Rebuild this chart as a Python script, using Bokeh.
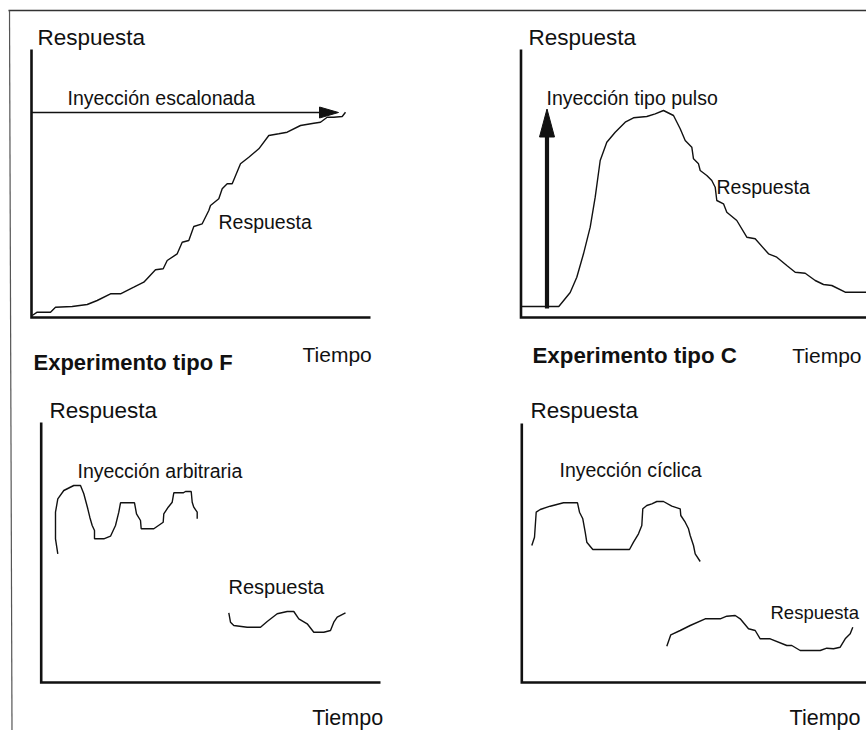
from bokeh.plotting import figure
from bokeh.models import Range1d
from bokeh.core.properties import value
from bokeh.embed import file_html
from bokeh.resources import INLINE

# ---------------- data (page pixel units) ----------------
# Panel F: step injection level and S-shaped response
f_step_level = 112
f_resp_x = [31.7, 36.7, 50, 55, 71.7, 86.7, 96.7, 110, 120, 133.3, 143.3, 155, 162.7, 166.7,
            176.7, 181.7, 188.3, 193.3, 201.7, 208.3, 210, 218.3, 221.7, 226.7, 231.7, 240,
            248.3, 258.3, 268.3, 278.3, 286.7, 300, 313.3, 320, 326.7, 333.3, 341.7, 345]
f_resp_y = [315, 311.7, 311.7, 306.7, 306, 304, 300, 293.3, 293.3, 286.7, 281.7, 269.3, 268.3,
            260, 253.3, 241.7, 240, 226, 223.3, 210, 205, 198.3, 188.3, 183.3, 183.3, 163.3,
            156.7, 148.3, 135, 133.3, 131.7, 125, 122.7, 121.7, 116.7, 116.7, 116, 111.7]

# Panel C: pulse injection and response peak
c_pulse_x = 546.5
c_resp_x = [521.5, 558.3, 569.7, 576.3, 583, 589.7, 594.7, 599.7, 606.3, 614.7, 624.7, 633,
            646.3, 654.7, 663, 673, 679.7, 684.7, 691.3, 693, 698, 699.7, 706.3, 711.3, 714.7,
            716.3, 723, 726.3, 736.3, 746.3, 754.7, 768, 776.3, 786.3, 794.7, 804.7, 814.7,
            823, 831.3, 844.7, 866.3]
c_resp_y = [306, 306, 292, 276.7, 253.3, 226.7, 196.7, 160, 141.7, 131.7, 121.7, 117.3, 116,
            113.3, 110, 115, 128.3, 140, 146.7, 158.3, 163.3, 170, 175, 180, 186.7, 200, 203.3,
            211.7, 220, 236.7, 238.3, 253.3, 256.7, 265, 271.7, 272.7, 280, 284, 285, 291.7,
            291.7]

# Panel arbitrary injection and response
a_inj_x = [57.3, 55, 55, 57.3, 63.3, 73.3, 80, 83.3, 87.3, 89.3, 91.7, 94, 94, 103.3, 110, 115,
           118.3, 120, 134, 136, 140, 140.7, 153.3, 162.7, 163.3, 167.7, 171.7, 173.3, 182.7,
           185, 190.7, 191.7, 193.3, 196.7, 196.7]
a_inj_y = [553.3, 538.3, 511.7, 498.3, 490, 485, 485, 493.3, 508.3, 516.7, 525, 530, 538.3,
           538.3, 535.7, 525, 511.7, 502.3, 502.3, 513.3, 520, 528.3, 528.3, 521.7, 513.3,
           506.7, 501.7, 492.3, 492.3, 491, 491, 501.7, 506.7, 511.7, 518.3]
a_resp_x = [228.3, 230, 233.3, 246.7, 260, 266.7, 276.7, 286.7, 293.3, 298.3, 306.7, 313.3,
            323.3, 330, 333.3, 336.7, 345]
a_resp_y = [612.3, 621.7, 625, 626.7, 626.7, 621, 613.3, 611, 611, 618.3, 623.3, 631.7, 631.7,
            630, 621.7, 616.7, 612.3]

# Panel cyclic injection and response
k_inj_x = [531.3, 534, 535.7, 539.7, 549.7, 563, 577, 579, 582.3, 584.7, 586.3, 592.3, 629, 633,
           638, 641.3, 642.3, 646.3, 651.3, 656.3, 663, 671.3, 679.7, 680.3, 684.7, 688, 689.7,
           693, 694.7, 699.7]
k_inj_y = [545, 536.7, 511.7, 509, 505.7, 502.3, 502.3, 511.7, 518.3, 531.7, 541.7, 549, 549,
           541.7, 533.3, 525, 508.3, 505, 503.3, 501, 501, 505.7, 508.3, 515, 521.7, 528.3, 535,
           545, 553.3, 561]
k_resp_x = [666.3, 670.3, 679.7, 689.7, 704.7, 719.7, 726.3, 734.7, 739.7, 748, 754.7, 759.7,
            769.7, 786.3, 791.3, 799.7, 819.7, 826.3, 833, 839.7, 844.7, 849.7, 852.3]
k_resp_y = [645.7, 634.3, 630, 625, 618.3, 618.3, 615.7, 615, 618.3, 628.3, 630, 638.3, 638.3,
            645, 645, 650, 650, 647.7, 648.3, 646.7, 638.3, 633.3, 626.7]

# ---------------- figure ----------------
INK = "#111111"
FONT = value("Liberation Sans")

p = figure(width=866, height=730, x_range=Range1d(0, 866), y_range=Range1d(730, 0),
           output_backend="svg", toolbar_location=None,
           x_axis_location=None, y_axis_location=None, min_border=0,
           outline_line_color=None, background_fill_color="white",
           border_fill_color="white")
p.grid.visible = False

# scan frame (top and left edges)
p.line([866, 8], [10, 10], line_color="#333333", line_width=1.3)
p.line([9, 11.5], [10, 730], line_color="#555555", line_width=1.2)

# panel axes: (x0, y_top, y_bottom, x_end)
panels = [(31, 49, 317, 370), (520.5, 49, 317, 866), (40.7, 422, 682, 380), (521.3, 423, 682, 866)]
for x0, yt, yb, xe in panels:
    p.line([x0, x0, xe], [yt, yb, yb], line_color=INK, line_width=2.6, line_join="miter")

# curves
for xs, ys in [(f_resp_x, f_resp_y), (c_resp_x, c_resp_y), (a_inj_x, a_inj_y),
               (a_resp_x, a_resp_y), (k_inj_x, k_inj_y), (k_resp_x, k_resp_y)]:
    p.line(xs, ys, line_color=INK, line_width=1.4)

# step injection arrow (horizontal)
p.line([31, 320], [f_step_level, f_step_level], line_color=INK, line_width=1.6)
tip, L, W = 338, 19, 11
p.patch([tip, tip - L, tip - L], [f_step_level, f_step_level - W / 2, f_step_level + W / 2],
        fill_color=INK, line_color=INK)

# pulse injection arrow (vertical, thick)
p.line([c_pulse_x, c_pulse_x], [308, 134], line_color=INK, line_width=4.2)
tipy, L2, W2 = 108.5, 28, 15
p.patch([c_pulse_x, c_pulse_x - W2 / 2, c_pulse_x + W2 / 2], [tipy, tipy + L2, tipy + L2],
        fill_color=INK, line_color=INK)

# ---------------- texts ----------------
def label(x, y, s, size, align="left", bold=False):
    p.text(x=[x], y=[y], text=[s], text_font=FONT, text_font_size=value(size),
           text_align=align, text_baseline="alphabetic", text_color=INK,
           text_font_style="bold" if bold else "normal")

label(37, 36.7, "Respuesta", "22.5px")
label(67, 97.5, "Inyección escalonada", "19.5px")
label(218, 221.5, "Respuesta", "19.5px")
label(33, 361.5, "Experimento tipo F", "22px", bold=True)
label(302, 354, "Tiempo", "21px")

label(528, 36.7, "Respuesta", "22.5px")
label(546, 97.7, "Inyección tipo pulso", "19.5px")
label(716, 186.5, "Respuesta", "19.5px")
label(532, 355, "Experimento tipo C", "22.3px", bold=True)
label(861, 355, "Tiempo", "21px", align="right")

label(49, 410, "Respuesta", "22.5px")
label(77, 470, "Inyección arbitraria", "19.5px")
label(228, 586.5, "Respuesta", "20px")
label(311.7, 717.5, "Tiempo", "21.5px")

label(530, 410, "Respuesta", "22.5px")
label(559, 469, "Inyección cíclica", "19.5px")
label(770, 611.5, "Respuesta", "18.5px")
label(860, 717, "Tiempo", "21.5px", align="right")

open("out.html", "w").write(file_html(p, INLINE))
